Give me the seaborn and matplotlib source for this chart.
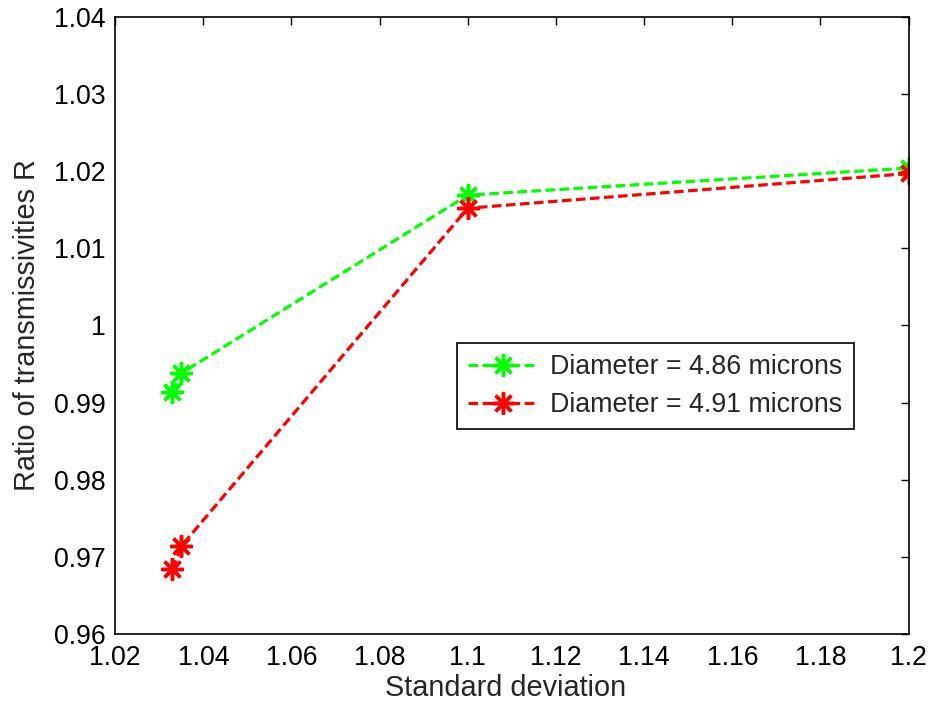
import matplotlib
matplotlib.use("Agg")
import matplotlib.pyplot as plt
import seaborn as sns
import pandas as pd
from matplotlib.lines import Line2D

std_dev = [1.033, 1.035, 1.1, 1.2]
ratio_486 = [0.9914, 0.9938, 1.0169, 1.0204]
ratio_491 = [0.9684, 0.9714, 1.0152, 1.0197]
labels = ["Diameter = 4.86 microns", "Diameter = 4.91 microns"]
colors = ["#00ff00", "#ff0000"]
xticks = [1.02, 1.04, 1.06, 1.08, 1.1, 1.12, 1.14, 1.16, 1.18, 1.2]
yticks = [0.96, 0.97, 0.98, 0.99, 1.0, 1.01, 1.02, 1.03, 1.04]

df = pd.concat([
    pd.DataFrame({"x": std_dev, "y": ratio_486, "series": labels[0]}),
    pd.DataFrame({"x": std_dev, "y": ratio_491, "series": labels[1]}),
])

sns.set_style("white")
plt.rcParams["font.family"] = ["Liberation Sans", "DejaVu Sans"]
plt.rcParams["font.size"] = 19

fig = plt.figure(figsize=(9.29, 7.04), dpi=100)
ax = fig.add_axes([0.124, 0.0994, 0.854, 0.8766])

marker = (8, 2, 0)
lw = 2.3
dash = [3.0, 1.4]
sns.lineplot(data=df, x="x", y="y", hue="series", palette=colors,
             estimator=None, sort=True, ax=ax, legend=False,
             linestyle="--", linewidth=lw, marker=marker, markersize=16,
             markeredgewidth=2.5)
for ln, c in zip(ax.get_lines(), colors):
    ln.set_dashes(dash)
    ln.set_markeredgecolor(c)
    ln.set_markerfacecolor(c)

ax.set_xlim(1.02, 1.2)
ax.set_ylim(0.96, 1.04)
ax.set_xticks(xticks)
ax.set_yticks(yticks)
ax.set_xticklabels(["1.02", "1.04", "1.06", "1.08", "1.1", "1.12", "1.14", "1.16", "1.18", "1.2"])
ax.set_yticklabels(["0.96", "0.97", "0.98", "0.99", "1", "1.01", "1.02", "1.03", "1.04"])
ax.tick_params(direction="in", length=6, width=1, top=True, right=True,
               labelsize=19.2, colors="black")
ax.tick_params(axis="x", pad=8)
ax.tick_params(axis="y", pad=7)
for s in ax.spines.values():
    s.set_color("black")
    s.set_linewidth(1.2)
ax.set_xlabel("Standard deviation", fontsize=20.8, labelpad=2)
ax.xaxis.set_label_coords(0.4925, -0.064)
ax.set_ylabel("Ratio of transmissivities R", fontsize=20.8, labelpad=9)

handles = [Line2D([0], [0], color=c, linestyle="--", dashes=dash, linewidth=lw,
                  marker=marker, markersize=16, markeredgewidth=2.5,
                  markeredgecolor=c, markerfacecolor=c) for c in colors]
leg = ax.legend(handles, labels, loc="center", bbox_to_anchor=(0.427, 0.337, 0.508, 0.130),
                fontsize=19.3, frameon=True, fancybox=False, edgecolor="black",
                framealpha=1.0, handlelength=2.6, borderpad=0.42, labelspacing=0.45,
                handletextpad=0.45)
leg.get_frame().set_linewidth(1.2)

fig.savefig("out.png", dpi=100)
